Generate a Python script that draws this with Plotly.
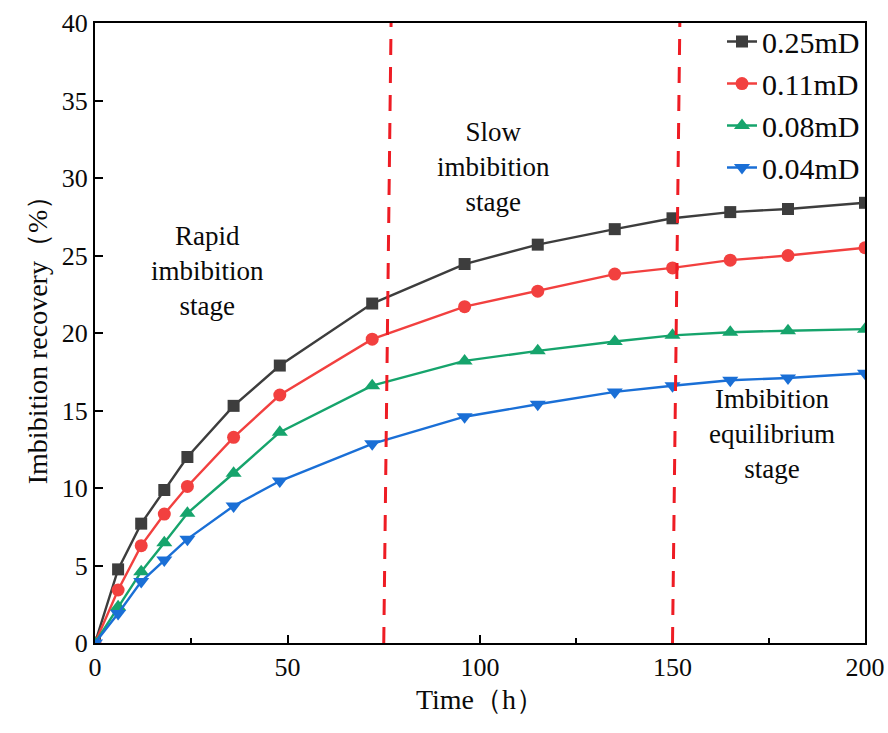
import plotly.graph_objects as go

# Imbibition time (h)
time_h = [0, 6, 12, 18, 24, 36, 48, 72, 96, 115, 135, 150, 165, 180, 200]

# Imbibition recovery (%) for each core permeability
rec_025 = [0, 4.75, 7.7, 9.87, 12.0, 15.3, 17.9, 21.9, 24.45, 25.7, 26.7, 27.4, 27.8, 28.0, 28.4]
rec_011 = [0, 3.42, 6.28, 8.32, 10.1, 13.27, 16.0, 19.6, 21.7, 22.7, 23.8, 24.2, 24.7, 25.0, 25.5]
rec_008 = [0, 2.34, 4.6, 6.47, 8.37, 10.95, 13.6, 16.6, 18.2, 18.85, 19.45, 19.85, 20.05, 20.15, 20.25]
rec_004 = [0, 1.9, 3.96, 5.35, 6.7, 8.84, 10.45, 12.85, 14.6, 15.4, 16.2, 16.6, 16.95, 17.1, 17.4]

series_names = ["0.25mD", "0.11mD", "0.08mD", "0.04mD"]
series_vals = [rec_025, rec_011, rec_008, rec_004]
colors = ["#3d3d3d", "#f2403f", "#16a46c", "#1a6fd6"]
symbols = ["square", "circle", "triangle-up", "triangle-down"]
sizes = [12, 13, 14, 14]

# Stage boundaries (h)
stage_bounds = [75, 150]

FONT = "Liberation Serif"
TEXT = "#0a0a0a"

fig = go.Figure()
for i, (name, vals) in enumerate(zip(series_names, series_vals)):
    fig.add_trace(go.Scatter(
        x=time_h, y=vals, name=name, mode="lines+markers",
        line=dict(color=colors[i], width=2.4),
        marker=dict(symbol=symbols[i], size=sizes[i], color=colors[i]),
    ))

for xb in stage_bounds:
    fig.add_shape(type="line", xref="x", yref="y",
                  x0=xb, y0=0, x1=xb + 1.9, y1=40,
                  line=dict(color="#ee1c24", width=3, dash="16px,12px"))

stage_labels = [
    (29.1, 24.0, "Rapid<br>imbibition<br>stage"),
    (103.4, 30.7, "Slow<br>imbibition<br>stage"),
    (175.8, 13.5, "Imbibition<br>equilibrium<br>stage"),
]
for x, y, txt in stage_labels:
    fig.add_annotation(x=x, y=y, xref="x", yref="y", text=txt, showarrow=False,
                       font=dict(family=FONT, size=27, color=TEXT),
                       align="center")

fig.update_layout(
    width=888, height=733,
    margin=dict(l=95, r=23, t=23, b=90, autoexpand=False),
    paper_bgcolor="white", plot_bgcolor="white",
    font=dict(family=FONT, color=TEXT),
    showlegend=True,
    legend=dict(x=1.0, y=1.012, xanchor="right", yanchor="top",
                bgcolor="rgba(0,0,0,0)", borderwidth=0,
                font=dict(family=FONT, size=30, color=TEXT),
                tracegroupgap=0, itemwidth=30),
    xaxis=dict(
        range=[0, 200], tickvals=[0, 50, 100, 150, 200], automargin=False,
        ticks="inside", ticklen=8, tickwidth=1.5, tickcolor="black",
        minor=dict(tickvals=[25, 75, 125, 175], ticks="inside", ticklen=5,
                   tickwidth=1.5, tickcolor="black"),
        showline=True, linecolor="black", linewidth=2, mirror=True,
        showgrid=False, zeroline=False,
        tickfont=dict(family=FONT, size=26, color=TEXT),
        title=dict(text="Time（h）", font=dict(family=FONT, size=28, color=TEXT),
                   standoff=8),
    ),
    yaxis=dict(
        range=[0, 40], dtick=5, automargin=False,
        ticks="inside", ticklen=8, tickwidth=1.5, tickcolor="black",
        showline=True, linecolor="black", linewidth=2, mirror=True,
        showgrid=False, zeroline=False,
        tickfont=dict(family=FONT, size=26, color=TEXT),
        title=dict(text="Imbibition recovery（%）",
                   font=dict(family=FONT, size=28, color=TEXT),
                   standoff=6),
    ),
)

fig.write_html("out.html")
